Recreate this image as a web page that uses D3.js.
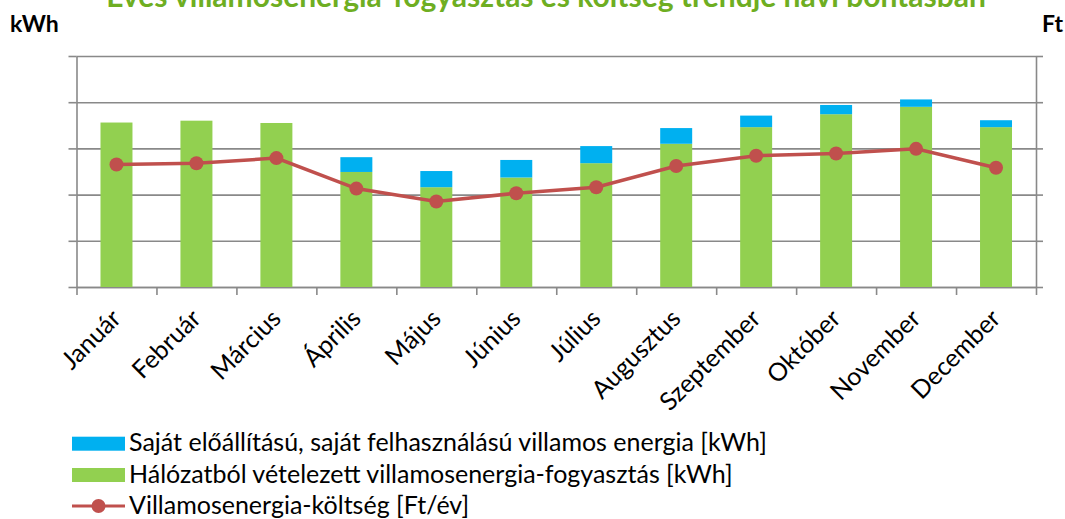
<!DOCTYPE html>
<html>
<head>
<meta charset="utf-8">
<script src="https://cdn.jsdelivr.net/npm/d3@7"></script>
<style>
  body { margin: 0; background: #fff; }
  svg { display: block; font-family: Lato, "Open Sans", sans-serif; }
</style>
</head>
<body>
<div id="chart"></div>
<script>
const months = ["Január", "Február", "Március", "Április", "Május", "Június",
  "Július", "Augusztus", "Szeptember", "Október", "November", "December"];

// kWh – hálózatból vételezett (green)
const gridKwh = [3560, 3600, 3550, 2490, 2160, 2370, 2680, 3100, 3460, 3740, 3900, 3460];
// kWh – saját előállítású (blue)
const ownKwh = [0, 0, 0, 320, 350, 380, 370, 340, 250, 200, 160, 150];
// Ft/év – költség (red line)
const costFt = [265000, 268000, 279000, 213000, 185000, 203000, 216000, 262000, 284000, 289000, 299000, 258000];

const kwhTicks = [0, 1000, 2000, 3000, 4000, 5000];
const ftTicks = [0, 100000, 200000, 300000, 400000, 500000];

const legendLabels = [
  "Saját előállítású, saját felhasználású villamos energia [kWh]",
  "Hálózatból vételezett villamosenergia-fogyasztás [kWh]",
  "Villamosenergia-költség [Ft/év]"
];

const width = 1065, height = 519;
const margin = { top: 56, right: 29, bottom: 232, left: 76.5 };
const plotR = width - margin.right;
const plotB = height - margin.bottom;

const green = "#92D050", blue = "#00B0F0", red = "#C0504D", axisCol = "#898989";

const svg = d3.select("#chart").append("svg")
  .attr("width", width).attr("height", height);

const x = d3.scaleBand().domain(months).range([margin.left, plotR]).paddingInner(0.6).paddingOuter(0.3);
const xEdge = d3.scaleLinear().domain([0, months.length]).range([margin.left, plotR]);
const y = d3.scaleLinear().domain([0, 5000]).range([plotB, margin.top]);
const yFt = d3.scaleLinear().domain([0, 500000]).range([plotB, margin.top]);

// title (clipped at the top like the original)
svg.append("text")
  .attr("x", 546).attr("y", 7)
  .attr("text-anchor", "middle")
  .attr("fill", "#6EAE22")
  .style("font-size", "30px").style("font-weight", "bold")
  .text("Éves villamosenergia-fogyasztás és költség trendje havi bontásban");

svg.append("text").attr("x", 10).attr("y", 32)
  .style("font-size", "23px").style("font-weight", "bold").text("kWh");
svg.append("text").attr("x", 1063).attr("y", 32).attr("text-anchor", "end")
  .style("font-size", "23px").style("font-weight", "bold").text("Ft");

// gridlines
svg.append("g")
  .attr("transform", `translate(${margin.left},0)`)
  .call(d3.axisLeft(y).tickValues(kwhTicks).tickSize(-(plotR - margin.left)).tickFormat(""))
  .call(g => g.select(".domain").remove())
  .selectAll("line").attr("stroke", axisCol).attr("stroke-width", 1.6);

// left axis
svg.append("g")
  .attr("transform", `translate(${margin.left},0)`)
  .call(d3.axisLeft(y).tickValues(kwhTicks).tickSizeInner(8).tickSizeOuter(0).tickFormat(""))
  .call(g => g.selectAll("line, path").attr("stroke", axisCol).attr("stroke-width", 1.6));

// right axis
svg.append("g")
  .attr("transform", `translate(${plotR},0)`)
  .call(d3.axisRight(yFt).tickValues(ftTicks).tickSizeInner(7).tickSizeOuter(0).tickFormat(""))
  .call(g => g.selectAll("line, path").attr("stroke", axisCol).attr("stroke-width", 1.6));

// bottom axis (ticks between categories)
svg.append("g")
  .attr("transform", `translate(0,${plotB})`)
  .call(d3.axisBottom(xEdge).tickValues(d3.range(months.length + 1)).tickSizeInner(8).tickSizeOuter(0).tickFormat(""))
  .call(g => g.selectAll("line, path").attr("stroke", axisCol).attr("stroke-width", 1.6));

// category labels
svg.append("g").selectAll("text")
  .data(months).join("text")
  .attr("transform", d => `translate(${x(d) + x.bandwidth() / 2 + 6},320) rotate(-45)`)
  .attr("text-anchor", "end")
  .style("font-size", "25px")
  .attr("fill", "#000")
  .text(d => d);

// stacked bars
const table = months.map((m, i) => ({ month: m, grid: gridKwh[i], own: ownKwh[i] }));
const stack = d3.stack().keys(["grid", "own"])(table);
const colors = { grid: green, own: blue };

svg.append("g").selectAll("g")
  .data(stack).join("g")
  .attr("fill", s => colors[s.key])
  .selectAll("rect")
  .data(s => s).join("rect")
  .attr("x", d => x(d.data.month))
  .attr("width", x.bandwidth())
  .attr("y", d => y(d[1]))
  .attr("height", d => y(d[0]) - y(d[1]));

// cost line
const line = d3.line()
  .x((d, i) => x(months[i]) + x.bandwidth() / 2)
  .y(d => yFt(d));

svg.append("path")
  .datum(costFt)
  .attr("fill", "none")
  .attr("stroke", red)
  .attr("stroke-width", 3.5)
  .attr("d", line);

svg.append("g").selectAll("circle")
  .data(costFt).join("circle")
  .attr("cx", (d, i) => x(months[i]) + x.bandwidth() / 2)
  .attr("cy", d => yFt(d))
  .attr("r", 7)
  .attr("fill", red);

// legend
const legend = svg.append("g").attr("transform", "translate(72,0)");
const rowY = [443.7, 475, 506];

legend.append("rect").attr("x", 0).attr("y", rowY[0] - 7).attr("width", 53).attr("height", 14).attr("fill", blue);
legend.append("rect").attr("x", 0).attr("y", rowY[1] - 7).attr("width", 53).attr("height", 14).attr("fill", green);
legend.append("line").attr("x1", 0).attr("x2", 53).attr("y1", rowY[2]).attr("y2", rowY[2])
  .attr("stroke", red).attr("stroke-width", 3);
legend.append("circle").attr("cx", 26.5).attr("cy", rowY[2]).attr("r", 7).attr("fill", red);

legend.selectAll("text.lg")
  .data(legendLabels).join("text")
  .attr("class", "lg")
  .attr("x", 57)
  .attr("y", (d, i) => rowY[i] + 7.5)
  .style("font-size", "25px")
  .attr("fill", "#000")
  .text(d => d);
</script>
</body>
</html>
